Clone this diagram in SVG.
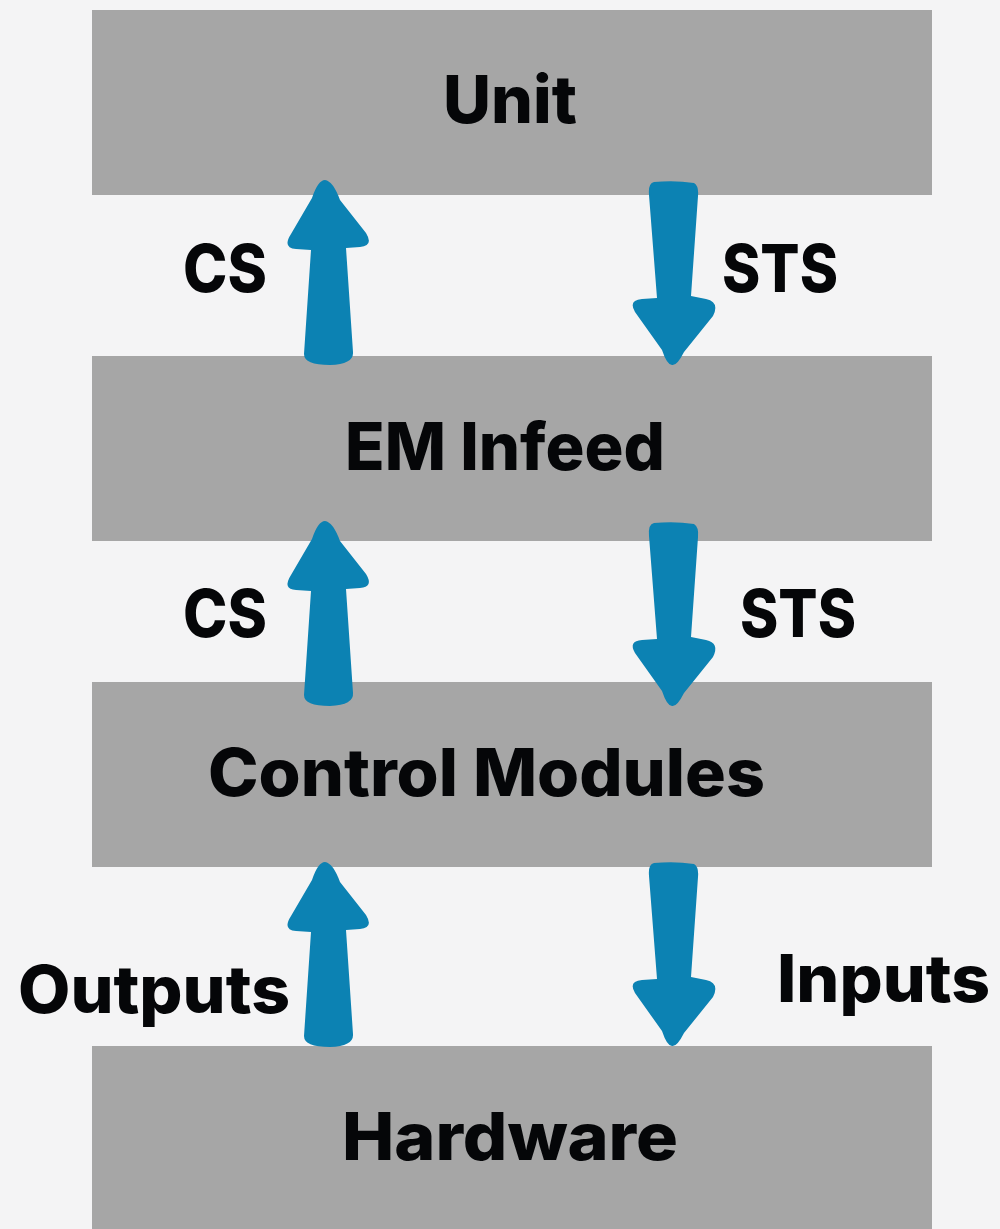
<svg xmlns="http://www.w3.org/2000/svg" width="1000" height="1229" viewBox="0 0 1000 1229">
  <style>
    .box { fill: #a6a6a6; }
    .lbl { font-family: Inter, "Open Sans", "Liberation Sans", sans-serif; font-weight: 800; font-size: 66px; fill: #050608; }
    .arrow { fill: #0c82b3; }
  </style>
  <defs>
    <path id="up" d="M325,180 Q333,181 340,200 L366,233 Q374,246 360,247 L346,248 L353,352 Q354,364 330,365 Q304,365 304,354 L311,250 L296,249 Q282,248 291,234 L312,198 Q318,180 325,180 Z"/>
    <path id="down" d="M654,182 Q675,180 694,183 Q699,186 698,196 L691,296 L706,299 Q720,302 713,316 L684,352 Q677,366 672,365 Q667,365 662,350 L635,312 Q628,300 642,299 L657,298 L649,195 Q648,183 654,182 Z"/>
  </defs>
  <rect width="1000" height="1229" fill="#f4f4f5"/>

  <g id="node-unit">
    <rect class="box" x="92" y="10" width="840" height="185"/>
    <text class="lbl" x="510" y="123" text-anchor="middle" textLength="134" lengthAdjust="spacingAndGlyphs">Unit</text>
  </g>
  <g id="node-em-infeed">
    <rect class="box" x="92" y="356" width="840" height="185"/>
    <text class="lbl" x="505" y="470" text-anchor="middle" textLength="320" lengthAdjust="spacingAndGlyphs">EM Infeed</text>
  </g>
  <g id="node-control-modules">
    <rect class="box" x="92" y="682" width="840" height="185"/>
    <text class="lbl" x="486.5" y="796" text-anchor="middle" textLength="557" lengthAdjust="spacingAndGlyphs">Control Modules</text>
  </g>
  <g id="node-hardware">
    <rect class="box" x="92" y="1046" width="840" height="183"/>
    <text class="lbl" x="510" y="1160" text-anchor="middle" textLength="336" lengthAdjust="spacingAndGlyphs">Hardware</text>
  </g>

  <g id="connectors">
    <use href="#up" class="arrow"/>
    <use href="#down" class="arrow"/>
    <use href="#up" class="arrow" transform="translate(0,341)"/>
    <use href="#down" class="arrow" transform="translate(0,341)"/>
    <use href="#up" class="arrow" transform="translate(0,682)"/>
    <use href="#down" class="arrow" transform="translate(0,681)"/>
  </g>

  <g id="labels">
    <text class="lbl" x="183" y="292" textLength="84" lengthAdjust="spacingAndGlyphs">CS</text>
    <text class="lbl" x="722" y="292" textLength="116" lengthAdjust="spacingAndGlyphs">STS</text>
    <text class="lbl" x="183" y="637" textLength="84" lengthAdjust="spacingAndGlyphs">CS</text>
    <text class="lbl" x="740" y="637" textLength="116" lengthAdjust="spacingAndGlyphs">STS</text>
    <text class="lbl" x="18" y="1013" textLength="272" lengthAdjust="spacingAndGlyphs">Outputs</text>
    <text class="lbl" x="777" y="1002" textLength="213" lengthAdjust="spacingAndGlyphs">Inputs</text>
  </g>
</svg>
